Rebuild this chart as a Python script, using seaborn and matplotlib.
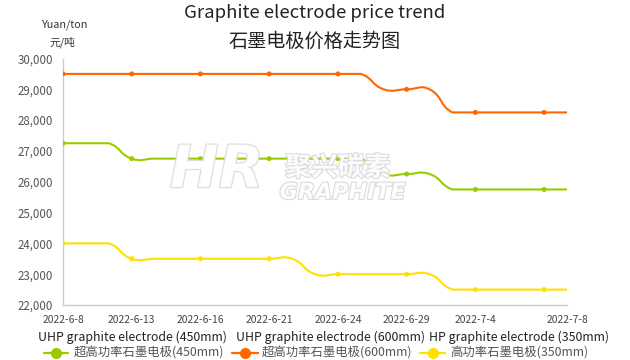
import numpy as np
import pandas as pd
import matplotlib
matplotlib.use('Agg')
import matplotlib.pyplot as plt
import seaborn as sns
from matplotlib.path import Path
from matplotlib.patches import PathPatch
from matplotlib.lines import Line2D
import matplotlib.patheffects as pe

# ---------------- data ----------------
dates = ['2022-6-8', '2022-6-9', '2022-6-10', '2022-6-13', '2022-6-14', '2022-6-15',
         '2022-6-16', '2022-6-17', '2022-6-20', '2022-6-21', '2022-6-22', '2022-6-23',
         '2022-6-24', '2022-6-27', '2022-6-28', '2022-6-29', '2022-6-30', '2022-7-1',
         '2022-7-4', '2022-7-5', '2022-7-6', '2022-7-7', '2022-7-8']

uhp450 = [27250, 27250, 27250, 26750, 26750, 26750, 26750, 26750, 26750, 26750, 26750, 26750,
          26750, 26750, 26250, 26250, 26250, 25750, 25750, 25750, 25750, 25750, 25750]
uhp600 = [29500, 29500, 29500, 29500, 29500, 29500, 29500, 29500, 29500, 29500, 29500, 29500,
          29500, 29500, 29000, 29000, 29000, 28250, 28250, 28250, 28250, 28250, 28250]
hp350 = [24000, 24000, 24000, 23500, 23500, 23500, 23500, 23500, 23500, 23500, 23500, 23000,
         23000, 23000, 23000, 23000, 23000, 22500, 22500, 22500, 22500, 22500, 22500]

names_en = ['UHP graphite electrode (450mm)', 'UHP graphite electrode (600mm)',
            'HP graphite electrode (350mm)']
names_zh = ['超高功率石墨电极(450mm)', '超高功率石墨电极(600mm)', '高功率石墨电极(350mm)']
colors = ['#99CC00', '#FF6600', '#FFE100']

yticks = [22000, 23000, 24000, 25000, 26000, 27000, 28000, 29000, 30000]
tick_idx = [0, 3, 6, 9, 12, 15, 18, 22]
marker_idx = [0, 3, 6, 9, 12, 15, 18, 21]

title_en = 'Graphite electrode price trend'
title_zh = '石墨电极价格走势图'
unit_en = 'Yuan/ton'
unit_zh = '元/吨'

# ---------------- style ----------------
sns.set_style('white')
plt.rcParams['font.family'] = ['Noto Sans CJK SC', 'DejaVu Sans']

W, H = 630, 360
fig = plt.figure(figsize=(W / 100, H / 100), dpi=100)
L, R, T, B = 63, 567, 58.5, 305
ax = fig.add_axes([L / W, 1 - B / H, (R - L) / W, (B - T) / H])

series = [uhp450, uhp600, hp350]
x = np.arange(len(dates))
ax.set_xlim(0, len(dates) - 1)
ax.set_ylim(yticks[0], yticks[-1])

sx = (R - L) / (len(dates) - 1)
sy = (B - T) / (yticks[-1] - yticks[0])


def smooth_path(xs, ys, smooth=0.5):
    P = np.column_stack([xs * sx, np.asarray(ys, float) * sy])
    lo, hi = P.min(0), P.max(0)
    verts = [P[0]]
    codes = [Path.MOVETO]
    cp0 = P[0].copy()
    n = len(P)
    for i in range(1, n):
        p = P[i]
        if i == n - 1:
            cp1 = p.copy()
            ncp0 = p.copy()
        else:
            prev, nxt = P[i - 1], P[i + 1]
            v = nxt - prev
            lp = np.hypot(*(p - prev))
            ln = np.hypot(*(nxt - p))
            r = ln / (ln + lp)
            cp1 = p - v * smooth * (1 - r)
            ncp0 = p + v * smooth * r
        verts += [np.clip(cp0, lo, hi), np.clip(cp1, lo, hi), p]
        codes += [Path.CURVE4] * 3
        cp0 = ncp0
    V = np.array(verts) / [sx, sy]
    return Path(V, codes)


for vals, c in zip(series, colors):
    ax.add_patch(PathPatch(smooth_path(x, vals), fill=False, edgecolor=c, lw=1.5,
                           zorder=3, capstyle='round', joinstyle='round'))

rows = []
for name, vals in zip(names_en, series):
    for i in marker_idx:
        rows.append({'x': i, 'price': vals[i], 'series': name})
df = pd.DataFrame(rows)
sns.scatterplot(data=df, x='x', y='price', hue='series', palette=colors, s=13,
                edgecolor=None, linewidth=0, legend=False, ax=ax, zorder=4)

# axes styling
for s in ['top', 'right']:
    ax.spines[s].set_visible(False)
for s in ['left', 'bottom']:
    ax.spines[s].set_color('#cccccc')
    ax.spines[s].set_linewidth(1)
ax.set_yticks(yticks)
ax.set_yticklabels([f'{v:,}' for v in yticks])
ax.set_xticks(tick_idx)
ax.set_xticklabels([dates[i] for i in tick_idx])
ax.tick_params(axis='y', length=0, pad=7, labelsize=8.3, labelcolor='#555555')
ax.tick_params(axis='x', length=4, width=1, color='#cccccc', pad=3,
               labelsize=7.4, labelcolor='#444444')
ax.set_xlabel('')
ax.set_ylabel('')
ax.grid(False)

# watermark
wm_fx = [pe.withStroke(linewidth=1.6, foreground='#d8d8d8')]
ax.text(0.305, 0.545, 'HR', transform=ax.transAxes, fontsize=42, fontweight='bold',
        style='italic', family='DejaVu Sans', color='white', alpha=0.9,
        ha='center', va='center', zorder=5, path_effects=wm_fx)
ax.text(0.545, 0.555, '聚兴碳素', transform=ax.transAxes, fontsize=19, fontweight='bold',
        color='white', alpha=0.9, ha='center', va='center', zorder=5, path_effects=wm_fx)
ax.text(0.555, 0.455, 'GRAPHITE', transform=ax.transAxes, fontsize=16, fontweight='bold',
        style='italic', family='DejaVu Sans', color='white', alpha=0.9,
        ha='center', va='center', zorder=5, path_effects=wm_fx)

# titles
fig.text(315 / W, 1 - 13 / H, title_en, ha='center', va='center', fontsize=13.3, color='#222222')
fig.text(315 / W, 1 - 41 / H, title_zh, ha='center', va='center', fontsize=13.8, color='#222222')
fig.text(64 / W, 1 - 25 / H, unit_en, ha='center', va='center', fontsize=7.8, color='#333333')
fig.text(63 / W, 1 - 42 / H, unit_zh, ha='center', va='center', fontsize=7.8, color='#333333')

# legend
en_x = [38, 236, 429]
mk_x = [(44, 68), (232, 258), (420, 445)]
zh_x = [74, 262, 450]
for name_en, name_zh, c, ex, (m0, m1), zx in zip(names_en, names_zh, colors, en_x, mk_x, zh_x):
    fig.text(ex / W, 1 - 337 / H, name_en, ha='left', va='center', fontsize=8.9, color='#222222')
    yl = 1 - 353 / H
    fig.add_artist(Line2D([m0 / W, m1 / W], [yl, yl], transform=fig.transFigure,
                          color=c, lw=1.6))
    fig.add_artist(Line2D([(m0 + m1) / 2 / W], [yl], transform=fig.transFigure,
                          color=c, marker='o', ms=7, lw=0))
    fig.text(zx / W, 1 - 353 / H, name_zh, ha='left', va='center', fontsize=8.9, color='#555555')

fig.savefig('out.png', dpi=100)
